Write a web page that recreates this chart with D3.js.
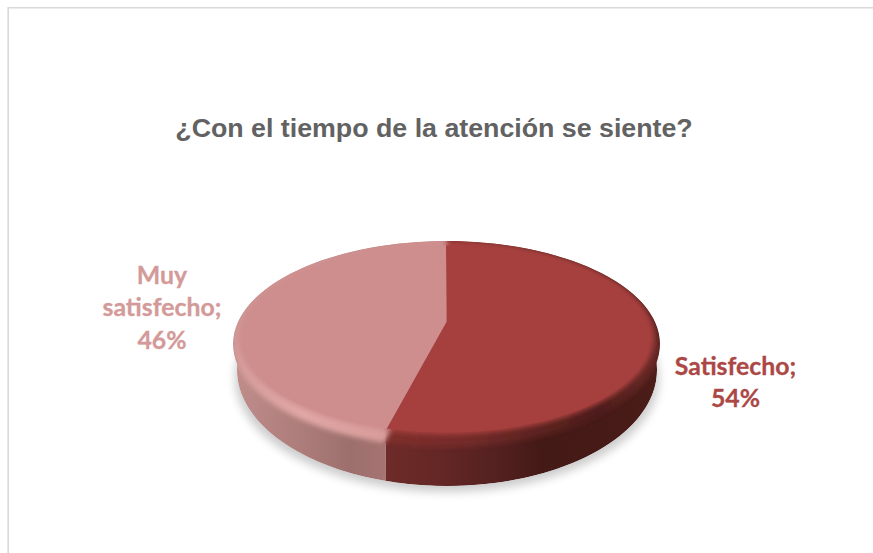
<!DOCTYPE html>
<html lang="es">
<head>
<meta charset="utf-8">
<title>¿Con el tiempo de la atención se siente?</title>
<script src="https://cdn.jsdelivr.net/npm/d3@7/dist/d3.min.js"></script>
<style>
html,body{margin:0;padding:0;background:#fff;overflow:hidden}
svg{display:block}
</style>
</head>
<body>
<svg id="chart" width="873" height="553"></svg>
<script>
// Survey answers, in clockwise order starting from twelve o'clock
const categories = ["Satisfecho", "Muy satisfecho"];
const shares = [54, 46];
const titleText = "¿Con el tiempo de la atención se siente?";
const faceColors = ["#a5403e", "#ce8e8e"];
const labelColors = ["#ab4846", "#d39a99"];
const labelLines = [["Satisfecho;", "54%"], ["Muy", "satisfecho;", "46%"]];

const W = 873, H = 553;
const svg = d3.select("#chart").attr("viewBox", [0, 0, W, H]);
const defs = svg.append("defs");

// Chart-area frame: only its top and left edges fall inside the page
svg.append("path").attr("d", "M8.2 553V7.8H873").attr("fill", "none")
  .attr("stroke", "#d9d9d9").attr("stroke-width", 1.6);

// The title runs slightly wide along its line
svg.append("text").attr("transform", "translate(434,137) scale(1.05,1)").attr("text-anchor", "middle")
  .attr("font-family", "'Liberation Sans', Arial, sans-serif").attr("font-weight", 700)
  .attr("font-size", 25.5).attr("fill", "#626262").text(titleText);

// Tilted disc: rim ellipse, bottom ellipse, flat face; pivot skews the slice angles,
// apexOffset places the point where the slices meet
const rimEllipse = {cx: 446.5, cy: 344, rx: 213.5, ry: 103};
const baseEllipse = {cx: 447, cy: 370, rx: 210, ry: 116};
const faceEllipse = {cx: 446, cy: 337.5, rx: 208, ry: 97};
const pivot = -0.16;
const apexOffset = -0.215;

const turn = d3.pie().sort(null).value(d => d)(shares);

// Perspective projection of a point on the unit circle at angle a (clockwise from north)
function project(e, a) {
  const u = Math.sin(a), v = -Math.cos(a), w = 1 + pivot * v;
  const s = Math.sqrt(1 - pivot * pivot);
  return [e.cx + e.rx * u * s / w, e.cy + e.ry * (v + pivot) / w];
}
const centre = e => [e.cx, e.cy + e.ry * apexOffset];
const line = d3.line();
const arcPts = (e, a0, a1) => d3.range(0, 121).map(i => project(e, a0 + (a1 - a0) * i / 120));

function linearX(id, stops) {
  const g = defs.append("linearGradient").attr("id", id).attr("gradientUnits", "userSpaceOnUse")
    .attr("x1", 233).attr("x2", 660).attr("y1", 0).attr("y2", 0);
  stops.forEach(([o, c]) => g.append("stop").attr("offset", (o - 233) / 427).attr("stop-color", c));
}
// Wall shading per slice, running left to right across the disc
linearX("wall0", [[380, "#6e2b29"], [440, "#642725"], [500, "#532020"], [540, "#441a17"], [600, "#451a17"], [660, "#4c1d19"]]);
linearX("wall1", [[233, "#c08d8b"], [300, "#ad7d7b"], [350, "#9c6f6d"], [390, "#a77472"]]);
// Bevel shading: pale on the lit left, dark on the right
linearX("rim0", [[380, "#7f2d2b"], [460, "#762c2a"], [540, "#5c2220"], [600, "#4d1d1a"], [660, "#6c2a27"]]);
linearX("rim1", [[233, "#d49c9a"], [300, "#e0a7a5"], [390, "#d89c9a"]]);

defs.append("filter").attr("id", "soft").attr("x", "-10%").attr("y", "-20%").attr("width", "120%").attr("height", "140%")
  .append("feGaussianBlur").attr("stdDeviation", 5);
defs.append("filter").attr("id", "rimBlur").attr("x", "-5%").attr("y", "-5%").attr("width", "110%").attr("height", "110%")
  .append("feGaussianBlur").attr("stdDeviation", 2.6);
defs.append("filter").attr("id", "faceBlur").attr("x", "-5%").attr("y", "-5%").attr("width", "110%").attr("height", "110%")
  .append("feGaussianBlur").attr("stdDeviation", 2.4);

// The whole visible solid, so soft edges never spill onto the page
const solid = defs.append("clipPath").attr("id", "solid");
solid.append("path").attr("d", line(arcPts(rimEllipse, 0, 2 * Math.PI)) + "Z");
solid.append("path").attr("d", line(arcPts(baseEllipse, 0, 2 * Math.PI)) + "Z");

// Soft cast shadow under the disc
svg.append("ellipse").attr("cx", 447).attr("cy", 378).attr("rx", 212).attr("ry", 114)
  .attr("fill", "#000").attr("opacity", 0.2).attr("filter", "url(#soft)");

const disc = svg.append("g").attr("clip-path", "url(#solid)");
const order = turn.map((d, i) => i);

// Backing for the rim's blurred edge, in the wall colour of each slice
disc.selectAll("path.rimBack").data(order).join("path").attr("class", "rimBack")
  .attr("fill", i => `url(#wall${i})`)
  .attr("d", i => line([centre(rimEllipse), ...arcPts(rimEllipse, turn[i].startAngle, turn[i].endAngle)]) + "Z");

// Side wall
disc.selectAll("path.wall").data(order).join("path").attr("class", "wall")
  .attr("fill", i => `url(#wall${i})`)
  .attr("d", i => {
    const a0 = turn[i].startAngle, a1 = turn[i].endAngle;
    const lo = Math.max(a0, Math.PI / 2), hi = Math.min(a1, 3 * Math.PI / 2);
    return line([...arcPts(faceEllipse, lo, hi), ...arcPts(baseEllipse, hi, lo)]) + "Z";
  });

// Rim band, blurred so it melts into both the wall and the face
const rimLayer = disc.append("g");
rimLayer.selectAll("path.rim").data(order).join("path").attr("class", "rim")
  .attr("fill", i => `url(#rim${i})`)
  .attr("d", i => line([centre(rimEllipse), ...arcPts(rimEllipse, turn[i].startAngle, turn[i].endAngle)]) + "Z")
  .attr("filter", "url(#rimBlur)");

const faceLayer = rimLayer.append("g").attr("filter", "url(#faceBlur)");
faceLayer.selectAll("path.face").data(order).join("path").attr("class", "face")
  .attr("fill", i => faceColors[i]).attr("stroke", i => faceColors[i]).attr("stroke-width", 0.5)
  .attr("d", i => {
    const a0 = turn[i].startAngle, a1 = turn[i].endAngle;
    return line([centre(rimEllipse), ...arcPts(faceEllipse, a0, a1)]) + "Z";
  });
// Sharp seam between the slices on the face itself
rimLayer.selectAll("path.face2").data(order).join("path").attr("class", "face2")
  .attr("fill", i => faceColors[i])
  .attr("d", i => {
    const a0 = turn[i].startAngle, a1 = turn[i].endAngle;
    const shrink = {cx: faceEllipse.cx, cy: faceEllipse.cy + 1.5, rx: faceEllipse.rx - 4, ry: faceEllipse.ry - 3.5};
    return line([centre(rimEllipse), ...arcPts(shrink, a0, a1)]) + "Z";
  });

// Data labels
const labelAnchors = [[735.5, 374.5], [162, 283.5]];
labelLines.forEach((lines, i) => {
  const t = svg.append("text").attr("text-anchor", "middle")
    .attr("font-family", "Lato, 'Noto Sans', sans-serif").attr("font-weight", 700)
    .attr("font-size", 24.8).attr("fill", labelColors[i])
    .attr("stroke", labelColors[i]).attr("stroke-width", 0.3);
  lines.forEach((s, j) => t.append("tspan").attr("x", labelAnchors[i][0])
    .attr("y", labelAnchors[i][1] + j * 32.7).text(s));
});
</script>
</body>
</html>
